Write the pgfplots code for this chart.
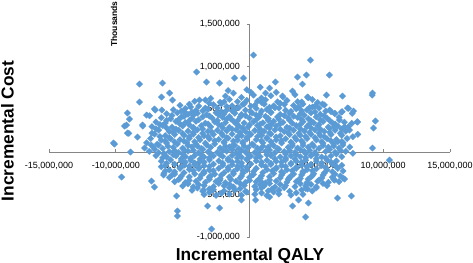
\documentclass[border=0pt]{standalone}
\usepackage{fontspec}
\setmainfont{Liberation Sans}
\usepackage{pgfplots}
\pgfplotsset{compat=1.18}
\definecolor{ptblue}{HTML}{5B9BD5}
\definecolor{axgray}{HTML}{868686}
\begin{document}
\begin{tikzpicture}
\begin{axis}[
 scale only axis, width=401bp, height=213.4bp,
 xmin=-15, xmax=15, ymin=-1000, ymax=1500,
 axis lines=middle,
 axis on top,
 axis line style={axgray, line width=0.75bp, -},
 xtick={-15,-10,-5,0,5,10,15},
 xticklabels={{-15,000,000},{-10,000,000},{-5,000,000},{0},{5,000,000},{10,000,000},{15,000,000}},
 ytick={-1000,-500,0,500,1000,1500},
 yticklabels={{-1,000,000},{-500,000},{0},{500,000},{1,000,000},{1,500,000}},
 hide obscured x ticks=false, hide obscured y ticks=false,
 tick style={axgray, line width=0.75bp},
 major tick length=3bp,
 tick align=outside,
 xtick align=inside,
 ticklabel style={font=\fontsize{9bp}{10bp}\selectfont, text=black},
 xticklabel style={anchor=north, yshift=-7bp},
 yticklabel style={anchor=east, xshift=-3bp},
 clip=false,
]
\coordinate (bl) at (rel axis cs:0,0);
\addplot[only marks, mark=square*, mark size=2.3bp, mark options={rotate=45, fill=ptblue, draw=ptblue, line width=0.2bp}] coordinates {
(-1.8,655)(-0.6,640)(0.3,668)(0.9,632)(1.6,660)(2.5,645)(3.4,672)(-2.9,628)(4.4,636)(0.1,700)(-1.2,690)
(0.8,760)(-0.2,730)(2.0,700)(-1.6,720)(1.2,690)
(-4.1,595)(-3.3,610)(-2.2,584)(-1.5,617)(-0.9,590)(-0.2,605)(0.6,596)(1.2,612)(2.1,588)(2.8,603)(3.6,590)(4.7,615)(5.1,580)
(-5.2,548)(-4.5,560)(-3.8,538)(-2.7,555)(-2.1,566)(-1.3,542)(-0.5,558)(0.4,547)(1.1,562)(1.8,540)(2.6,557)(3.3,545)(4.0,562)(4.9,538)(5.6,552)
(-5.7,495)(-4.8,510)(-4.0,488)(-3.1,502)(-2.4,515)(-1.7,492)(-1.0,507)(-0.3,490)(0.5,512)(1.3,498)(1.9,520)(2.7,489)(3.5,506)(4.3,495)(5.2,514)(6.0,492)
(-6.2,448)(-5.4,460)(-4.6,442)(-3.9,455)(-3.2,438)(-2.5,462)(-1.9,447)(-1.1,455)(-0.6,440)(0.2,458)(0.8,445)(1.6,462)(2.3,440)(3.0,455)(3.8,447)(4.6,460)(5.3,442)(6.4,452)
(-6.6,402)(-5.9,390)(-5.1,410)(-4.3,395)(-3.5,412)(-2.8,398)(-2.0,405)(-1.4,388)(-0.7,410)(0.0,396)(0.7,408)(1.4,392)(2.1,410)(2.9,397)(3.6,405)(4.4,390)(5.0,412)(5.8,398)(6.7,406)
(-7.0,352)(-6.3,340)(-5.5,358)(-4.8,345)(-4.0,360)(-3.3,338)(-2.6,352)(-1.8,345)(-1.2,362)(-0.4,340)(0.3,355)(1.0,342)(1.8,360)(2.5,348)(3.2,338)(4.0,356)(4.8,344)(5.5,358)(6.2,340)(7.1,350)
(-7.3,298)(-6.5,310)(-5.8,292)(-5.0,305)(-4.2,290)(-3.6,308)(-2.9,295)(-2.1,312)(-1.5,290)(-0.8,305)(-0.1,294)(0.6,310)(1.3,296)(2.0,305)(2.8,290)(3.5,310)(4.3,298)(5.1,306)(5.9,292)(6.6,304)(7.4,296)
(-6.8,258)(-6.0,240)(-5.3,255)(-4.6,245)(-3.9,260)(-3.1,242)(-2.4,255)(-1.7,248)(-1.0,262)(-0.3,240)(0.4,252)(1.1,244)(1.9,258)(2.6,240)(3.3,255)(4.1,247)(4.9,260)(5.6,242)(6.4,255)(7.2,245)
(-7.1,210)(-6.3,192)(-5.6,205)(-4.9,195)(-4.2,210)(-3.4,190)(-2.7,205)(-2.0,196)(-1.3,210)(-0.6,192)(0.1,206)(0.9,195)(1.6,210)(2.3,190)(3.0,204)(3.8,196)(4.6,208)(5.3,192)(6.1,205)(6.9,196)
(-7.4,158)(-6.6,140)(-5.9,155)(-5.2,145)(-4.5,160)(-3.7,142)(-3.0,155)(-2.3,148)(-1.6,162)(-0.9,140)(-0.2,152)(0.5,145)(1.3,160)(2.0,142)(2.7,155)(3.5,146)(4.3,158)(5.0,142)(5.8,156)(6.5,146)(7.3,158)
(-7.7,108)(-6.9,92)(-6.2,105)(-5.4,95)(-4.7,110)(-4.0,92)(-3.3,104)(-2.6,96)(-1.9,110)(-1.2,90)(-0.5,104)(0.2,95)(1.0,108)(1.7,92)(2.4,106)(3.2,96)(4.0,108)(4.7,92)(5.5,105)(6.3,95)(7.0,108)
(-7.2,58)(-6.5,42)(-5.7,55)(-5.0,45)(-4.3,60)(-3.6,42)(-2.9,55)(-2.2,48)(-1.5,60)(-0.8,40)(-0.1,52)(0.6,45)(1.4,58)(2.1,42)(2.9,55)(3.6,46)(4.4,58)(5.2,42)(5.9,56)(6.7,46)(7.5,58)
(-7.5,8)(-6.8,-8)(-6.0,5)(-5.3,-5)(-4.6,10)(-3.8,-8)(-3.1,4)(-2.4,-3)(-1.7,10)(-1.0,-10)(-0.3,2)(0.4,-5)(1.2,8)(1.9,-8)(2.6,5)(3.4,-4)(4.1,9)(4.9,-7)(5.7,6)(6.4,-4)(7.2,8)
(-7.0,-42)(-6.2,-58)(-5.5,-45)(-4.8,-55)(-4.1,-40)(-3.4,-58)(-2.7,-45)(-2.0,-52)(-1.3,-40)(-0.6,-60)(0.1,-48)(0.8,-55)(1.6,-42)(2.3,-58)(3.1,-45)(3.8,-54)(4.6,-42)(5.4,-58)(6.1,-44)(6.9,-54)
(-6.6,-108)(-5.9,-92)(-5.1,-105)(-4.4,-95)(-3.7,-110)(-3.0,-92)(-2.3,-104)(-1.6,-96)(-0.9,-110)(-0.2,-90)(0.5,-104)(1.3,-95)(2.0,-108)(2.7,-92)(3.5,-106)(4.2,-96)(5.0,-108)(5.8,-92)(6.5,-105)
(-6.3,-158)(-5.6,-142)(-4.9,-155)(-4.1,-145)(-3.4,-160)(-2.7,-142)(-2.0,-155)(-1.3,-148)(-0.6,-162)(0.1,-140)(0.9,-152)(1.6,-145)(2.4,-160)(3.1,-142)(3.9,-155)(4.6,-146)(5.4,-158)(6.2,-142)(6.9,-156)
(-6.0,-210)(-5.2,-192)(-4.5,-205)(-3.8,-195)(-3.0,-210)(-2.3,-190)(-1.6,-205)(-0.9,-196)(-0.2,-210)(0.5,-192)(1.3,-206)(2.0,-195)(2.8,-208)(3.5,-192)(4.3,-205)(5.0,-196)(5.8,-208)(6.6,-192)
(-6.4,-248)(-5.6,-258)(-4.9,-242)(-4.1,-255)(-3.4,-245)(-2.6,-260)(-1.9,-242)(-1.2,-255)(-0.5,-248)(0.3,-262)(1.0,-240)(1.8,-252)(2.5,-245)(3.3,-258)(4.0,-242)(4.8,-255)(5.6,-246)(6.4,-258)
(-6.0,-298)(-5.2,-308)(-4.5,-292)(-3.7,-305)(-3.0,-295)(-2.2,-310)(-1.5,-292)(-0.7,-304)(0.0,-296)(0.8,-310)(1.5,-290)(2.3,-304)(3.0,-295)(3.8,-308)(4.6,-292)(5.4,-305)(6.2,-295)(7.0,-306)
(-5.6,-348)(-4.8,-358)(-4.0,-342)(-3.3,-355)(-2.5,-345)(-1.8,-360)(-1.0,-342)(-0.3,-355)(0.5,-348)(1.2,-362)(2.0,-340)(2.8,-352)(3.5,-345)(4.3,-358)(5.1,-342)(5.9,-355)(6.7,-346)
(-5.0,-398)(-4.2,-408)(-3.4,-392)(-2.7,-405)(-1.9,-395)(-1.2,-410)(-0.4,-392)(0.4,-404)(1.1,-396)(1.9,-410)(2.7,-392)(3.4,-406)(4.2,-395)(5.0,-408)(5.8,-394)
(-4.3,-448)(-3.5,-458)(-2.7,-442)(-1.9,-455)(-1.1,-445)(-0.3,-460)(0.5,-442)(1.4,-455)(2.2,-448)(3.0,-460)(3.9,-444)(4.7,-456)
(-3.4,-498)(-2.5,-508)(-1.5,-492)(-0.6,-505)(0.4,-495)(1.3,-510)(2.2,-492)(3.1,-505)(4.0,-496)
(-3.0,572)(-1.9,588)(-0.4,566)(0.9,581)(2.3,570)(3.9,586)
(-4.4,528)(-3.3,515)(-1.7,533)(-0.8,520)(0.1,538)(1.5,524)(2.2,516)(3.7,530)(4.5,521)
(-5.1,478)(-4.3,468)(-3.5,482)(-2.1,472)(-1.3,485)(0.1,470)(0.9,480)(1.6,466)(3.1,476)(3.9,484)(4.9,470)(5.7,480)
(-5.8,428)(-4.9,418)(-4.2,432)(-3.0,422)(-2.3,435)(-1.5,415)(-0.3,426)(0.5,432)(1.2,418)(2.6,428)(3.3,420)(4.1,433)(5.6,422)
(-6.2,372)(-5.3,382)(-4.5,368)(-3.8,378)(-2.4,370)(-1.7,385)(-0.9,366)(0.5,378)(1.4,370)(2.2,384)(3.0,372)(3.9,380)(4.6,366)(5.3,378)(6.0,370)
(-6.7,322)(-5.2,330)(-4.5,318)(-3.1,328)(-2.3,320)(-1.0,332)(0.0,318)(0.8,326)(1.6,320)(2.3,332)(3.8,322)(4.5,330)(5.2,320)(6.4,328)
(-7.0,272)(-6.2,282)(-5.5,268)(-4.2,278)(-3.5,270)(-2.0,282)(-1.3,268)(-0.5,278)(0.8,270)(1.5,282)(2.3,268)(3.0,280)(3.8,272)(4.6,282)(5.3,268)(6.0,276)(6.9,270)
(-7.3,222)(-5.7,230)(-5.0,218)(-4.2,228)(-3.5,220)(-2.8,232)(-2.1,220)(-0.7,228)(0.0,218)(0.8,232)(1.5,222)(2.9,228)(3.7,218)(4.5,230)(5.2,222)(6.0,230)(6.8,220)
(-6.7,182)(-6.0,168)(-4.5,178)(-3.8,170)(-3.1,182)(-1.7,168)(-0.9,178)(-0.2,170)(0.6,182)(1.3,168)(2.0,176)(3.4,172)(4.2,182)(4.9,168)(5.6,178)
(-6.3,130)(-5.6,118)(-4.9,128)(-4.1,120)(-2.6,132)(-1.9,120)(-1.2,128)(-0.5,118)(0.9,130)(1.6,122)(2.4,132)(3.1,118)(3.9,128)(5.4,120)(6.1,130)(6.9,122)
(-6.8,82)(-6.1,68)(-4.6,78)(-3.9,70)(-3.2,82)(-1.8,68)(-1.1,78)(-0.4,70)(0.3,82)(1.0,68)(1.8,76)(3.2,72)(4.0,82)(4.8,68)(5.5,78)(6.3,70)
(-7.1,32)(-5.6,18)(-4.9,28)(-4.2,20)(-3.5,32)(-2.0,18)(-1.3,28)(-0.6,20)(0.8,30)(1.5,22)(2.2,32)(3.0,18)(3.8,28)(4.5,20)(6.0,30)(6.8,22)
(-6.4,-18)(-5.7,-32)(-5.0,-22)(-3.6,-30)(-2.9,-18)(-2.2,-32)(-0.8,-20)(-0.1,-30)(0.6,-18)(1.3,-32)(2.7,-22)(3.5,-30)(4.2,-20)(5.0,-32)(6.5,-22)
(-6.5,-68)(-5.1,-80)(-4.4,-72)(-3.7,-82)(-3.0,-68)(-1.6,-78)(-0.9,-70)(-0.2,-82)(0.5,-68)(1.9,-78)(2.7,-70)(3.4,-82)(4.2,-68)(5.0,-78)(5.7,-70)
(-6.2,-132)(-4.8,-118)(-4.1,-128)(-3.4,-120)(-2.0,-132)(-1.3,-118)(-0.6,-128)(0.9,-120)(1.6,-132)(2.4,-118)(3.1,-130)(3.9,-120)(5.4,-128)(6.1,-118)
(-6.6,-172)(-5.2,-182)(-4.5,-168)(-3.8,-178)(-3.0,-170)(-1.6,-182)(-0.9,-168)(-0.2,-178)(1.2,-170)(2.0,-182)(2.7,-168)(3.5,-178)(4.3,-170)(5.7,-182)(6.5,-170)
(-6.3,-222)(-5.6,-232)(-4.2,-218)(-3.4,-228)(-2.7,-220)(-1.2,-232)(-0.5,-218)(0.3,-228)(1.7,-220)(2.4,-232)(3.2,-218)(4.0,-228)(4.7,-220)(6.2,-230)(7.0,-222)
(-5.8,-272)(-5.1,-282)(-3.6,-268)(-2.9,-278)(-2.1,-270)(-0.6,-282)(0.2,-268)(0.9,-278)(2.4,-270)(3.1,-282)(3.9,-268)(4.7,-278)(5.5,-270)(6.8,-280)
(-5.3,-322)(-4.5,-332)(-3.0,-318)(-2.2,-328)(-1.4,-320)(0.0,-332)(0.7,-318)(1.5,-328)(2.9,-320)(3.7,-332)(4.4,-318)(5.2,-328)(6.3,-320)
(-4.6,-372)(-3.8,-382)(-2.3,-368)(-1.5,-378)(-0.7,-370)(0.8,-382)(1.5,-368)(2.3,-378)(3.8,-370)(4.6,-380)(5.5,-368)
(-3.9,-422)(-3.0,-432)(-1.5,-418)(-0.7,-428)(0.9,-420)(1.7,-432)(2.6,-418)(4.2,-428)(5.0,-420)
(-3.0,-472)(-2.1,-482)(-0.2,-470)(0.9,-480)(1.8,-468)(3.5,-478)
(0.30,1136)(4.56,1077)(-3.96,937)(-1.12,867)(-0.45,867)(3.59,878)(4.26,902)(5.98,902)(1.94,820)(-3.22,820)(-2.24,808)(-8.23,796)(-6.51,808)
(-6.58,644)(-5.98,691)(-5.76,609)(-8.23,586)(-3.74,609)(-7.11,504)(-7.70,433)(-9.13,457)(-9.20,316)(-8.00,316)(-4.86,468)
(9.20,691)(6.96,656)(5.76,667)(4.34,644)(3.22,714)(3.96,796)(1.50,749)(2.47,656)(4.71,527)(5.46,562)(7.33,515)(7.78,480)(8.08,351)(9.42,363)(9.28,281)(6.88,468)
(-10.17,105)(-8.90,0)(-9.57,-293)(-7.33,-340)(-7.11,-410)(-6.43,-269)(-5.46,-515)(-5.39,-691)(-5.39,-749)(-2.84,-902)(-3.14,-632)(-2.24,-656)(-3.44,-445)(-9.13,222)(-8.38,176)
(9.20,47)(10.47,-94)(7.63,-515)(6.58,-539)(4.19,-761)(4.41,-597)(3.67,-562)(3.22,-632)(4.34,-433)(2.99,-304)(1.50,-527)(0.45,-562)(-0.60,-562)(0.97,-363)(7.11,-316)(6.36,-328)
(-8.98,386)(-9.35,304)(-9.03,219)(-10.10,94)(-7.98,304)(-7.48,425)(-7.05,492)(-6.56,492)(-7.85,47)(-7.35,82)
(6.11,472)(6.36,453)(6.93,472)(7.41,512)(7.68,453)(8.06,355)(7.65,336)(6.73,375)(7.11,296)(6.36,296)(7.48,258)(7.73,179)(8.10,207)(6.60,121)(6.98,82)(7.73,-15)(9.18,667)
};
\end{axis}
\pgfresetboundingbox
\useasboundingbox ([shift={(-49bp,-25.6bp)}]bl) rectangle ([shift={(424bp,237.4bp)}]bl);
\coordinate (img) at ([shift={(-49bp,-25.6bp)}]bl);
\node[anchor=base, inner sep=0pt, font=\bfseries\fontsize{17.3bp}{20bp}\selectfont] at ([shift={(250bp,2.8bp)}]img) {Incremental QALY};
\node[anchor=base, rotate=90, inner sep=0pt, font=\bfseries\fontsize{17.3bp}{20bp}\selectfont] at ([shift={(13.5bp,132bp)}]img) {Incremental Cost};
\node[anchor=center, rotate=90, inner sep=0pt, font=\bfseries\fontsize{8.5bp}{10bp}\selectfont] at ([shift={(114bp,239bp)}]img) {Thousands};
\end{tikzpicture}
\end{document}
